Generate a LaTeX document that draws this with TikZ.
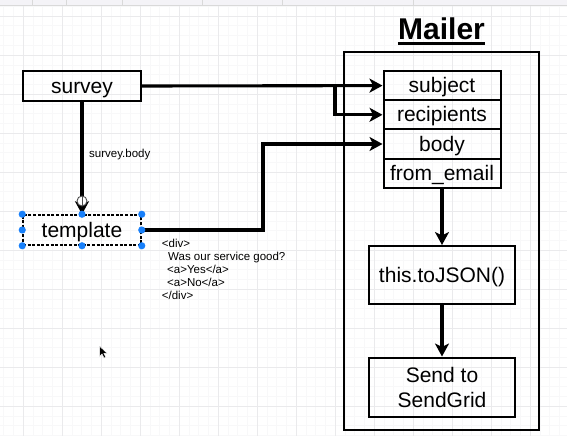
\documentclass[tikz,border=0pt]{standalone}
\usepackage{fontspec}
\setmainfont{Liberation Sans}
\usetikzlibrary{arrows.meta}
\definecolor{gridmajor}{RGB}{234,234,236}
\definecolor{gridminor}{RGB}{248,248,249}
\definecolor{bandcol}{RGB}{244,243,247}
\definecolor{handle}{RGB}{24,128,250}
\tikzset{
  box/.style={draw=black, line width=2pt, rectangle, inner sep=0pt, font=\fontsize{21}{25}\selectfont, align=center},
  onel/.style={text height=15.5pt, text depth=1.5pt},
  conn/.style={line width=3.1pt, -{Stealth[length=13pt,width=14pt,inset=3.5pt]}},
  small/.style={font=\fontsize{11.5}{13}\selectfont, inner sep=0pt},
  hdl/.style={fill=handle, draw=none},
}
\begin{document}
\begin{tikzpicture}[x=1pt,y=-1pt]
\useasboundingbox (0,0) rectangle (567,436);
\fill[white] (0,0) rectangle (567,436);
% grid
\foreach \i in {-3,...,56} {\draw[gridminor, line width=0.5pt] ({23+9.75*\i},0) -- ({23+9.75*\i},436);}
\foreach \i in {-2,...,43} {\draw[gridminor, line width=0.5pt] (0,{16+9.75*\i}) -- (567,{16+9.75*\i});}
\foreach \i in {0,...,14} {\draw[gridmajor, line width=0.8pt] ({23+39*\i},0) -- ({23+39*\i},436);}
\foreach \i in {0,...,10} {\draw[gridmajor, line width=0.8pt] (0,{16+39*\i}) -- (567,{16+39*\i});}
% top band
\fill[bandcol] (0,0) rectangle (567,5.5);
\draw[gray!30, line width=0.6pt] (0,5.5) -- (567,5.5);
\foreach \x in {32,66,122,202,282,413} {\draw[gray!30, line width=0.5pt] (\x,0) -- (\x,5.5);}

% Mailer container
\node[draw=black, line width=2pt, rectangle, minimum width=195pt, minimum height=378pt, inner sep=0pt] (mailer) at (441.5,241) {};
\node[font=\fontsize{30}{34}\selectfont\bfseries, anchor=base, inner sep=0pt] (title) at (441.5,39.3) {Mailer};
\draw[line width=2.6pt] ([yshift=-4pt]title.base west) -- ([yshift=-4pt]title.base east);

% fields
\node[box, onel, minimum width=117pt, minimum height=29.2pt] (subject) at (442,85.6) {subject};
\node[box, onel, minimum width=117pt, minimum height=29.2pt] (recipients) at (442,114.8) {recipients};
\node[box, onel, minimum width=117pt, minimum height=29.2pt] (body) at (442,144) {body};
\node[box, onel, minimum width=117pt, minimum height=29.2pt] (from) at (442,173.2) {from\_email};

\node[box, onel, minimum width=146pt, minimum height=58pt] (json) at (442,275) {this.toJSON()};
\node[box, minimum width=146pt, minimum height=59pt] (send) at (442,387) {Send to\\SendGrid};

% left nodes
\node[box, onel, minimum width=118pt, minimum height=30pt] (survey) at (82,86) {survey};
\node[box, onel, dashed, dash pattern=on 3pt off 1.6pt, line width=1.5pt, minimum width=118pt, minimum height=30pt] (template) at (82,230) {template};

% connectors
\coordinate (br) at (335,86);
\coordinate (tb) at (263,230);
\draw[conn] (survey.east) -- (subject.west);
\draw[conn] (br) |- (recipients.west);
\draw[conn] (template.east) -- (tb) |- (body.west);
\draw[conn] (survey.south) -- (template.north);
\draw[conn] (from.south) -- (json.north);
\draw[conn] (json.south) -- (send.north);

% connection icon
\node[circle, draw=black!70, fill=white, line width=0.9pt, minimum size=10pt, inner sep=0pt] (icon) at (82,201) {};
\draw[black!70, line width=1pt] (icon.north) -- (icon.south);

% selection handles
\foreach \a in {north west,north,north east,west,east,south west,south,south east}
  {\fill[hdl] (template.\a) circle (3.6pt);}

% labels
\node[small, anchor=west] (lbl) at (89,155) {survey.body};
\node[small, anchor=base west] (h1) at (161.7,247.3) {<div>};
\node[small, anchor=base west] (h2) at (168,260.5) {Was our service good?};
\node[small, anchor=base west] (h3) at (167,273.6) {<a>Yes</a>};
\node[small, anchor=base west] (h4) at (167,286.7) {<a>No</a>};
\node[small, anchor=base west] (h5) at (161.7,299.8) {</div>};

% mouse cursor
\filldraw[fill=black, draw=white, line width=0.5pt] (99.5,346) -- (99.5,356.5) -- (102,354) -- (104,358) -- (105.8,357.2) -- (103.9,353.4) -- (107.2,353.4) -- cycle;
\end{tikzpicture}
\end{document}
